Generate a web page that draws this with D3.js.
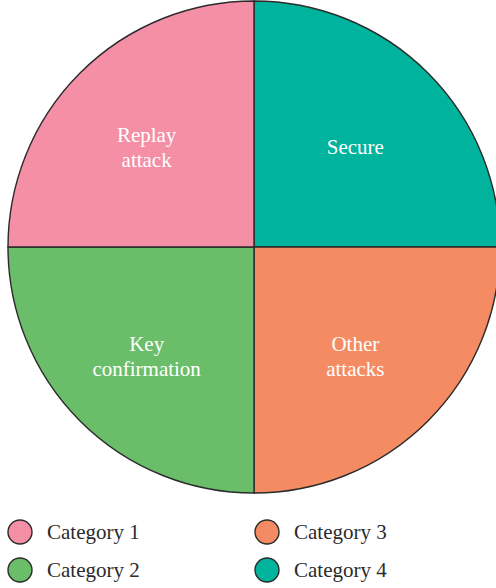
<!DOCTYPE html>
<html>
<head>
<meta charset="utf-8">
<script src="https://cdn.jsdelivr.net/npm/d3@7"></script>
<style>
  html, body { margin: 0; padding: 0; background: #fff; }
  svg { display: block; }
  text { font-family: "Liberation Serif", "Times New Roman", serif; }
</style>
</head>
<body>
<svg id="chart" width="496" height="588"></svg>
<script>
// Slice labels, shares and legend entries, clockwise from 12 o'clock
const sliceLabels = [["Secure"], ["Other", "attacks"], ["Key", "confirmation"], ["Replay", "attack"]];
const sliceValues = [25, 25, 25, 25];
const sliceCategories = ["Category 4", "Category 3", "Category 2", "Category 1"];
const legendOrder = ["Category 1", "Category 2", "Category 3", "Category 4"];
const categoryColors = ["#F48FA6", "#6BBE69", "#F58B62", "#00B39D"];

const svg = d3.select("#chart");
const cx = 254, cy = 247, R = 246;

const color = d3.scaleOrdinal().domain(legendOrder).range(categoryColors);

const slices = sliceValues.map((v, i) => ({ value: v, label: sliceLabels[i], cat: sliceCategories[i] }));
const pie = d3.pie().sort(null).value(d => d.value);
const arc = d3.arc().innerRadius(0).outerRadius(R);
const labelArc = d3.arc().innerRadius(R * 0.6).outerRadius(R * 0.6);

const g = svg.append("g").attr("transform", `translate(${cx},${cy})`);
const arcs = pie(slices);

g.selectAll("path").data(arcs).join("path")
  .attr("d", arc)
  .attr("fill", d => color(d.data.cat))
  .attr("stroke", "#2b2b2b")
  .attr("stroke-width", 1.4);

// Slice labels sit a little left of and below the arc centroids
const lineH = 25, nudgeX = -3, nudgeY = 4.5;
g.selectAll("text.slice").data(arcs).join("text")
  .attr("class", "slice")
  .attr("text-anchor", "middle")
  .attr("fill", "#fff")
  .attr("font-size", 21)
  .each(function(d) {
    const [x, y] = labelArc.centroid(d);
    const lines = d.data.label;
    const y0 = y + nudgeY - (lines.length - 1) * lineH / 2;
    d3.select(this).selectAll("tspan").data(lines).join("tspan")
      .attr("x", x + nudgeX)
      .attr("y", (t, i) => y0 + i * lineH)
      .attr("dy", "0.35em")
      .text(t => t);
  });

// Legend: two columns, two rows
const legendX = d3.scalePoint().domain([0, 1]).range([20, 267]);
const legendY = d3.scalePoint().domain([0, 1]).range([532, 570]);
const legend = svg.append("g").selectAll("g").data(legendOrder).join("g")
  .attr("transform", (d, i) => `translate(${legendX(Math.floor(i / 2))},${legendY(i % 2)})`);
legend.append("circle")
  .attr("r", 12)
  .attr("fill", d => color(d))
  .attr("stroke", "#2b2b2b")
  .attr("stroke-width", 1.4);
legend.append("text")
  .attr("x", 27)
  .attr("dy", "0.35em")
  .attr("font-size", 21)
  .attr("fill", "#2b2b2b")
  .text(d => d);
</script>
</body>
</html>
